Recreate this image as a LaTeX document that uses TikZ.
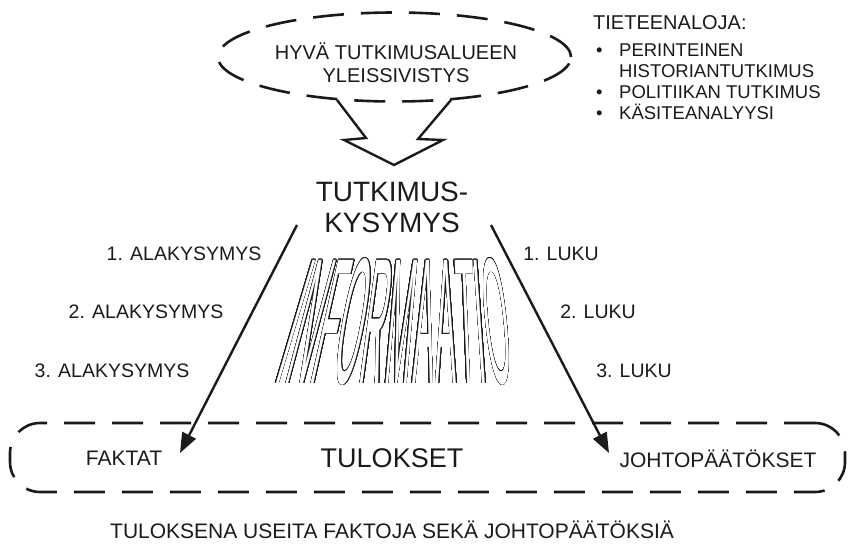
\documentclass[tikz,border=0pt]{standalone}
\usepackage{fontspec}
\setmainfont{Liberation Sans}
\newfontfamily\infofont[FakeStretch=0.175]{Liberation Sans}
\usepackage{contour}
\contourlength{0.45pt}
\contournumber{32}
\usetikzlibrary{arrows.meta,shapes.geometric}
\definecolor{ink}{HTML}{1A1A1A}

\begin{document}
\begin{tikzpicture}[
  x=1pt, y=-1pt,
  every node/.style={inner sep=0pt, text=ink},
  dashline/.style={draw=ink, line width=2.6pt, dash pattern=on 31pt off 17pt},
  label/.style={font=\fontsize{19.5}{22}\selectfont},
  small/.style={font=\fontsize{21}{24}\selectfont},
  big/.style={font=\fontsize{28}{31}\selectfont, align=center},
  arrow/.style={-{Triangle[length=20pt,width=15pt]}, draw=ink, line width=2.4pt},
  letter/.style={font=\infofont\fontsize{179}{179}\selectfont, text=white}
]
\useasboundingbox (0,0) rectangle (850,543);

% background knowledge
\node[ellipse, dashline, minimum width=353pt, minimum height=89pt] (wish) at (394.5,57) {};
\node[font=\fontsize{20}{23}\selectfont, align=center] (wishtext) at (396,63)
{HYVÄ TUTKIMUSALUEEN\\YLEISSIVISTYS};
\draw[ink, line width=2.4pt] (337,100) -- (366,138) -- (344,140) -- (394,165)
  -- (443,140) -- (418,139) -- (451,100);

% fields of science
\node[anchor=base west, font=\fontsize{20}{23}\selectfont] (fields) at (593,30) {TIETEENALOJA:};
\node[anchor=north west, align=left, font=\fontsize{18.5}{21}\selectfont] (fieldlist) at (596,43.5)
{\makebox[23pt][l]{\textbullet}PERINTEINEN\\
 \hspace*{23pt}HISTORIANTUTKIMUS\\
 \makebox[23pt][l]{\textbullet}POLITIIKAN TUTKIMUS\\
 \makebox[23pt][l]{\textbullet}KÄSITEANALYYSI};

% research question
\node[big] (question) at (392,207) {TUTKIMUS-\\KYSYMYS};

% sub-questions and chapters
\node[label] (sub1) at (184,254) {1. ALAKYSYMYS};
\node[label] (sub2) at (146,312) {2. ALAKYSYMYS};
\node[label] (sub3) at (112,371) {3. ALAKYSYMYS};
\node[label] (ch1) at (561,254) {1. LUKU};
\node[label] (ch2) at (598,312) {2. LUKU};
\node[label] (ch3) at (634,371) {3. LUKU};

% information
\foreach \ch/\px/\sl [count=\i] in {I/295.7/0.297, N/311.3/0.266, F/332.2/0.224,
  O/353.9/0.181, R/377.4/0.135, M/401.7/0.087, A/425.2/0.040, A/446.1/-0.001,
  T/466.1/-0.041, I/480.0/-0.068, O/496.5/-0.101}
{
  \node[xslant=\sl, letter] (info\i) at (\px,322) {\contour{ink}{\ch}};
}

% results
\node[dashline, rounded corners=30pt, minimum width=835pt, minimum height=69pt] (results) at (427.5,457.5) {};
\node[anchor=base, font=\fontsize{27}{30}\selectfont] (resulttitle) at (392,467) {TULOKSET};
\node[small, anchor=base] (facts) at (124,465) {FAKTAT};
\node[small, anchor=base] (conclusions) at (718,467) {JOHTOPÄÄTÖKSET};

\coordinate (qleft) at (297,225);
\coordinate (qright) at (491,225);
\coordinate (factend) at (180,453);
\coordinate (conclend) at (609,453);
\draw[arrow] (qleft) -- (factend);
\draw[arrow] (qright) -- (conclend);

\node[small, anchor=base] (summary) at (392,538) {TULOKSENA USEITA FAKTOJA SEKÄ JOHTOPÄÄTÖKSIÄ};

\end{tikzpicture}
\end{document}
